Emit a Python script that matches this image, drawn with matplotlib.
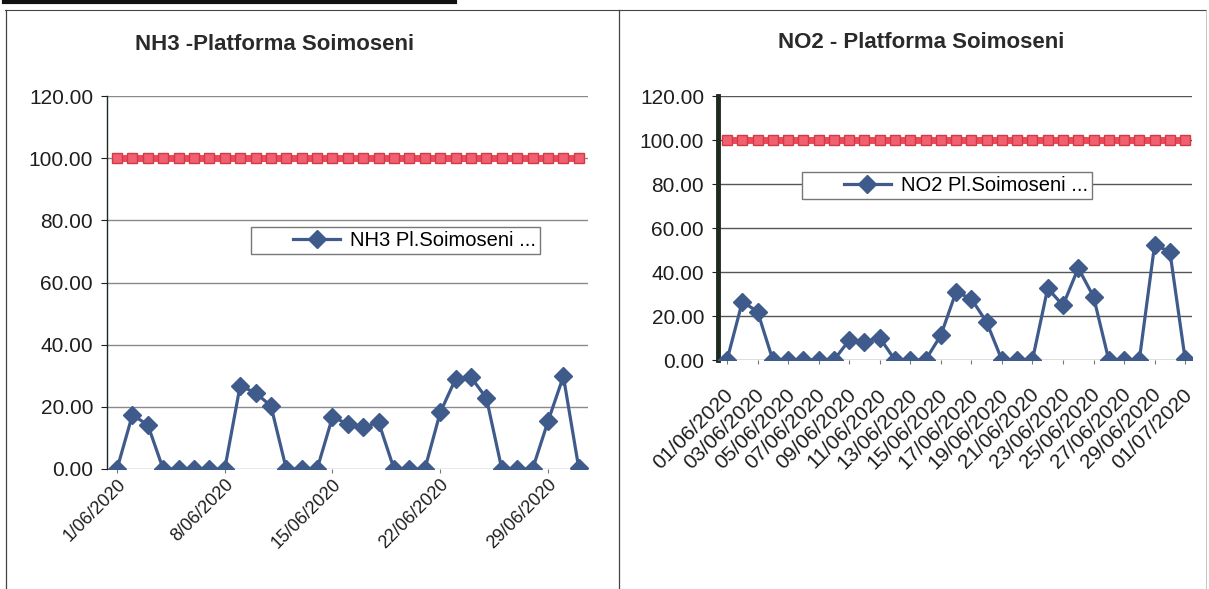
import numpy as np
import pandas as pd
import matplotlib
matplotlib.use("Agg")
import matplotlib.pyplot as plt
from matplotlib.lines import Line2D
from matplotlib.legend_handler import HandlerLine2D
from matplotlib.transforms import ScaledTranslation

plt.rcParams['font.family'] = ['Liberation Sans', 'DejaVu Sans']

# data
dates = pd.date_range('2020-06-01', '2020-07-01', freq='D')
nh3 = [0, 17.4, 14.2, 0, 0, 0, 0, 0, 26.8, 24.5, 20.3, 0, 0, 0,
       16.7, 14.5, 13.4, 15.0, 0, 0, 0, 18.2, 29.0, 29.5, 22.8, 0, 0, 0,
       15.3, 29.8, 0.3]
no2 = [0, 26.5, 22.0, 0, 0, 0, 0, 0, 9.0, 8.3, 10.1, 0, 0, 0,
       11.2, 31.0, 27.8, 17.2, 0, 0, 0, 32.6, 24.8, 41.8, 28.8, 0, 0, 0,
       52.3, 49.3, 0.4]
limit = [100.0] * len(dates)

nh3_ticks = pd.to_datetime(['2020-06-01', '2020-06-08', '2020-06-15',
                            '2020-06-22', '2020-06-29'])
no2_ticks = pd.date_range('2020-06-01', '2020-07-01', freq='2D')

W, H = 1209, 589
fig = plt.figure(figsize=(W / 100, H / 100), dpi=100)
fig.patch.set_facecolor('white')

blue = '#3f5b8c'
red = '#ec4a5a'
ink = '#1e1e1e'


class OffsetHandle(HandlerLine2D):
    # excel-like legend key: blank space on the left, short line with marker
    def get_xdata(self, legend, xdescent, ydescent, width, height, fontsize):
        x0 = -xdescent + 0.45 * width
        x1 = -xdescent + width
        return np.array([x0, x1]), np.array([(x0 + x1) / 2])


def px_axes(left, right, top, bottom):
    return fig.add_axes([left / W, 1 - bottom / H, (right - left) / W, (bottom - top) / H])


def style(ax, grid_col, spine_w):
    ax.set_ylim(0, 120)
    ax.set_yticks(np.arange(0, 121, 20))
    ax.yaxis.set_major_formatter(plt.FuncFormatter(lambda v, p: '%.2f' % v))
    ax.grid(axis='y', color=grid_col, lw=1.0)
    ax.set_axisbelow(True)
    for s in ['top', 'right', 'bottom']:
        ax.spines[s].set_visible(False)
    ax.spines['left'].set_linewidth(spine_w)
    ax.spines['left'].set_color('#1f2a1f')
    ax.tick_params(axis='y', labelsize=15, colors=ink, length=4, pad=6)
    ax.tick_params(axis='x', length=3, color='#777777', pad=2)


def series(ax, vals, lab):
    ax.plot(dates, limit, color=red, lw=5, marker='s', ms=7,
            mec='#d23a4a', mfc='#f06070', zorder=3)
    ax.plot(dates, vals, color=blue, lw=2.3, marker='D', ms=9,
            mec=blue, mfc=blue, label=lab, zorder=4)


def legend(ax, x, y):
    ax.legend(loc='upper left', bbox_to_anchor=(x, y), borderaxespad=0, fontsize=14.5,
              frameon=True, fancybox=False, edgecolor='#777777', framealpha=1,
              handlelength=4.2, borderpad=0.2, handletextpad=0.5,
              handler_map={Line2D: OffsetHandle()})


# ---- left: NH3
ax1 = px_axes(107, 588, 96, 469)
series(ax1, nh3, 'NH3 Pl.Soimoseni ...')
style(ax1, '#8a8a8a', 1.0)
ax1.set_xlim(dates[0] - pd.Timedelta(hours=15.6), dates[-1] + pd.Timedelta(hours=14.4))
ax1.set_xticks(nh3_ticks)
ax1.set_xticklabels([d.strftime('%-d/%m/%Y') for d in nh3_ticks],
                    rotation=45, ha='right', rotation_mode='anchor',
                    fontsize=13, color=ink)
legend(ax1, 0.30, 0.648)
fig.text(275 / W, 1 - 45 / H, 'NH3 -Platforma Soimoseni', ha='center', va='center',
         fontsize=16, fontweight='bold', color='#2a2a2a')

# ---- right: NO2
ax2 = px_axes(718, 1192, 96, 360)
series(ax2, no2, 'NO2 Pl.Soimoseni ...')
style(ax2, '#555555', 3.5)
ax2.set_xlim(dates[0] - pd.Timedelta(hours=14.2), dates[-1] + pd.Timedelta(hours=10.8))
ax2.set_xticks(no2_ticks)
ax2.set_xticklabels([d.strftime('%d/%m/%Y') for d in no2_ticks],
                    rotation=45, ha='right', rotation_mode='anchor',
                    fontsize=15, color=ink)
ax2.tick_params(axis='x', pad=15)
shift = ScaledTranslation(-3 / 100, 0, fig.dpi_scale_trans)
for lab in ax2.get_xticklabels():
    lab.set_transform(lab.get_transform() + shift)
legend(ax2, 0.177, 0.712)
fig.text(921 / W, 1 - 43 / H, 'NO2 - Platforma Soimoseni', ha='center', va='center',
         fontsize=16, fontweight='bold', color='#2a2a2a')


# ---- page frame of the scanned document
def hline(x0, x1, y, lw, col):
    fig.add_artist(Line2D([x0 / W, x1 / W], [1 - y / H, 1 - y / H], lw=lw, color=col))


def vline(x, y0, y1, lw, col):
    fig.add_artist(Line2D([x / W, x / W], [1 - y0 / H, 1 - y1 / H], lw=lw, color=col))


hline(4, 455, 2, 3.0, '#111111')
hline(5, 1206, 10, 0.8, '#444444')
vline(6, 10, 589, 0.9, '#444444')
vline(619, 10, 589, 0.9, '#444444')
vline(1206, 10, 589, 0.6, '#bbbbbb')

fig.savefig('out.png', dpi=100)
